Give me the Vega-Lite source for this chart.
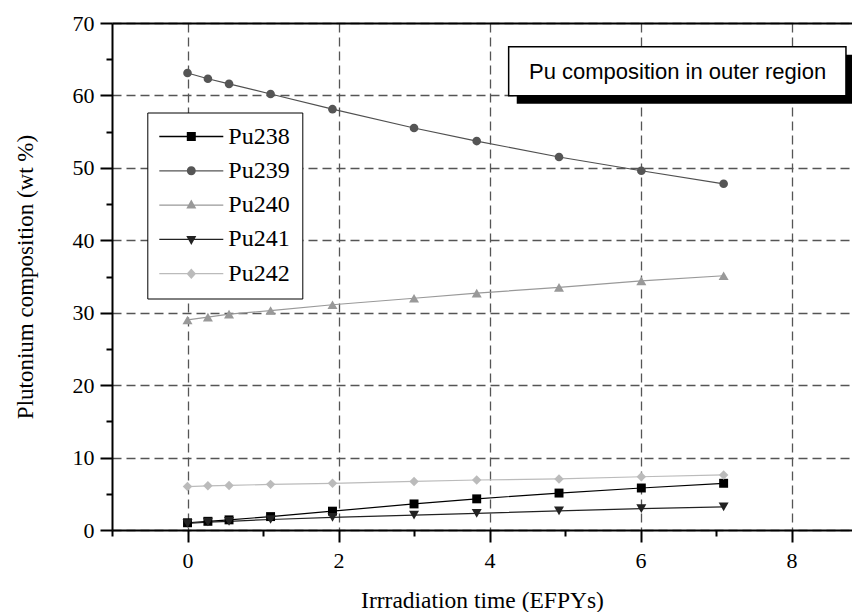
{
  "$schema": "https://vega.github.io/schema/vega-lite/v6.json",
  "width": 740,
  "height": 507,
  "autosize": {"type": "none"},
  "padding": {"left": 112, "top": 23, "right": 0, "bottom": 82},
  "background": "white",
  "config": {"view": {"stroke": null}, "font": "Liberation Serif"},
  "data": {
    "values": [
      {"t": 0, "iso": "Pu238", "wt": 1.0},
      {"t": 0.27, "iso": "Pu238", "wt": 1.2},
      {"t": 0.55, "iso": "Pu238", "wt": 1.4},
      {"t": 1.1, "iso": "Pu238", "wt": 1.85},
      {"t": 1.92, "iso": "Pu238", "wt": 2.6},
      {"t": 3.0, "iso": "Pu238", "wt": 3.6},
      {"t": 3.83, "iso": "Pu238", "wt": 4.3},
      {"t": 4.92, "iso": "Pu238", "wt": 5.1},
      {"t": 6.01, "iso": "Pu238", "wt": 5.8},
      {"t": 7.1, "iso": "Pu238", "wt": 6.45},
      {"t": 0, "iso": "Pu239", "wt": 63.1},
      {"t": 0.27, "iso": "Pu239", "wt": 62.3},
      {"t": 0.55, "iso": "Pu239", "wt": 61.6},
      {"t": 1.1, "iso": "Pu239", "wt": 60.2},
      {"t": 1.92, "iso": "Pu239", "wt": 58.1},
      {"t": 3.0, "iso": "Pu239", "wt": 55.5},
      {"t": 3.83, "iso": "Pu239", "wt": 53.7},
      {"t": 4.92, "iso": "Pu239", "wt": 51.5},
      {"t": 6.01, "iso": "Pu239", "wt": 49.6},
      {"t": 7.1, "iso": "Pu239", "wt": 47.8},
      {"t": 0, "iso": "Pu240", "wt": 29.0},
      {"t": 0.27, "iso": "Pu240", "wt": 29.4},
      {"t": 0.55, "iso": "Pu240", "wt": 29.8},
      {"t": 1.1, "iso": "Pu240", "wt": 30.3},
      {"t": 1.92, "iso": "Pu240", "wt": 31.1},
      {"t": 3.0, "iso": "Pu240", "wt": 32.0},
      {"t": 3.83, "iso": "Pu240", "wt": 32.7},
      {"t": 4.92, "iso": "Pu240", "wt": 33.5},
      {"t": 6.01, "iso": "Pu240", "wt": 34.4},
      {"t": 7.1, "iso": "Pu240", "wt": 35.1},
      {"t": 0, "iso": "Pu241", "wt": 0.9},
      {"t": 0.27, "iso": "Pu241", "wt": 1.1},
      {"t": 0.55, "iso": "Pu241", "wt": 1.2},
      {"t": 1.1, "iso": "Pu241", "wt": 1.45},
      {"t": 1.92, "iso": "Pu241", "wt": 1.75},
      {"t": 3.0, "iso": "Pu241", "wt": 2.05},
      {"t": 3.83, "iso": "Pu241", "wt": 2.3},
      {"t": 4.92, "iso": "Pu241", "wt": 2.65},
      {"t": 6.01, "iso": "Pu241", "wt": 2.95},
      {"t": 7.1, "iso": "Pu241", "wt": 3.2},
      {"t": 0, "iso": "Pu242", "wt": 6.0},
      {"t": 0.27, "iso": "Pu242", "wt": 6.1},
      {"t": 0.55, "iso": "Pu242", "wt": 6.15},
      {"t": 1.1, "iso": "Pu242", "wt": 6.3},
      {"t": 1.92, "iso": "Pu242", "wt": 6.45},
      {"t": 3.0, "iso": "Pu242", "wt": 6.7},
      {"t": 3.83, "iso": "Pu242", "wt": 6.9},
      {"t": 4.92, "iso": "Pu242", "wt": 7.05},
      {"t": 6.01, "iso": "Pu242", "wt": 7.35},
      {"t": 7.1, "iso": "Pu242", "wt": 7.6}
    ]
  },
  "resolve": {"axis": {"x": "independent", "y": "independent"}},
  "layer": [
    {
      "transform": [{"filter": "datum.iso === 'Pu238'"}],
      "mark": {"type": "line", "strokeWidth": 1.2, "color": "#000000"},
      "encoding": {
        "x": {
          "field": "t", "type": "quantitative",
          "scale": {"domain": [-1, 8.8], "nice": false, "zero": false},
          "axis": {
            "orient": "bottom",
            "values": [0, 2, 4, 6, 8], "format": "d",
            "domainColor": "black", "domainWidth": 2,
            "tickColor": "black", "tickWidth": 2, "tickSize": 12,
            "labelFont": "Liberation Serif", "labelFontSize": 22, "labelColor": "black", "labelPadding": 8,
            "grid": true, "gridDash": [9, 5], "gridColor": "#555", "gridWidth": 1.3,
            "title": "Irrradiation time (EFPYs)",
            "titleFont": "Liberation Serif", "titleFontSize": 23.5, "titleFontWeight": "normal", "titleColor": "black",
            "titleBaseline": "alphabetic", "titleY": 77
          }
        },
        "y": {
          "field": "wt", "type": "quantitative",
          "scale": {"domain": [0, 70], "nice": false, "zero": false},
          "axis": {
            "orient": "left",
            "values": [0, 10, 20, 30, 40, 50, 60, 70],
            "domainColor": "black", "domainWidth": 2,
            "tickColor": "black", "tickWidth": 2, "tickSize": 12,
            "labelFont": "Liberation Serif", "labelFontSize": 22, "labelColor": "black", "labelPadding": 6,
            "grid": true, "gridDash": [9, 5], "gridColor": "#555", "gridWidth": 1.3,
            "title": "Plutonium composition (wt %)",
            "titleFont": "Liberation Serif", "titleFontSize": 23, "titleFontWeight": "normal", "titleColor": "black",
            "titleBaseline": "alphabetic", "titleAngle": 270, "titleX": -80, "titleY": 253.5, "titleAlign": "center"
          }
        }
      }
    },
    {
      "transform": [{"filter": "datum.iso === 'Pu239'"}],
      "mark": {"type": "line", "strokeWidth": 1.2, "color": "#505050"},
      "encoding": {
        "x": {"field": "t", "type": "quantitative", "axis": null},
        "y": {"field": "wt", "type": "quantitative", "axis": null}
      }
    },
    {
      "transform": [{"filter": "datum.iso === 'Pu240'"}],
      "mark": {"type": "line", "strokeWidth": 1.2, "color": "#999999"},
      "encoding": {
        "x": {"field": "t", "type": "quantitative", "axis": null},
        "y": {"field": "wt", "type": "quantitative", "axis": null}
      }
    },
    {
      "transform": [{"filter": "datum.iso === 'Pu241'"}],
      "mark": {"type": "line", "strokeWidth": 1.2, "color": "#222222"},
      "encoding": {
        "x": {"field": "t", "type": "quantitative", "axis": null},
        "y": {"field": "wt", "type": "quantitative", "axis": null}
      }
    },
    {
      "transform": [{"filter": "datum.iso === 'Pu242'"}],
      "mark": {"type": "line", "strokeWidth": 1.2, "color": "#bbbbbb"},
      "encoding": {
        "x": {"field": "t", "type": "quantitative", "axis": null},
        "y": {"field": "wt", "type": "quantitative", "axis": null}
      }
    },
    {
      "transform": [{"filter": "datum.iso === 'Pu238'"}],
      "mark": {"type": "point", "filled": true, "opacity": 1, "shape": "square", "size": 80, "color": "#000000"},
      "encoding": {
        "x": {"field": "t", "type": "quantitative", "axis": null},
        "y": {"field": "wt", "type": "quantitative", "axis": null}
      }
    },
    {
      "transform": [{"filter": "datum.iso === 'Pu239'"}],
      "mark": {"type": "point", "filled": true, "opacity": 1, "shape": "circle", "size": 75, "color": "#555555"},
      "encoding": {
        "x": {"field": "t", "type": "quantitative", "axis": null},
        "y": {"field": "wt", "type": "quantitative", "axis": null}
      }
    },
    {
      "transform": [{"filter": "datum.iso === 'Pu240'"}],
      "mark": {"type": "point", "filled": true, "opacity": 1, "shape": "triangle-up", "size": 100, "color": "#999999"},
      "encoding": {
        "x": {"field": "t", "type": "quantitative", "axis": null},
        "y": {"field": "wt", "type": "quantitative", "axis": null}
      }
    },
    {
      "transform": [{"filter": "datum.iso === 'Pu241'"}],
      "mark": {"type": "point", "filled": true, "opacity": 1, "shape": "triangle-down", "size": 100, "color": "#222222"},
      "encoding": {
        "x": {"field": "t", "type": "quantitative", "axis": null},
        "y": {"field": "wt", "type": "quantitative", "axis": null}
      }
    },
    {
      "transform": [{"filter": "datum.iso === 'Pu242'"}],
      "mark": {"type": "point", "filled": true, "opacity": 1, "shape": "diamond", "size": 90, "color": "#bbbbbb"},
      "encoding": {
        "x": {"field": "t", "type": "quantitative", "axis": null},
        "y": {"field": "wt", "type": "quantitative", "axis": null}
      }
    },
    {
      "mark": {"type": "point", "filled": true, "opacity": 0, "size": 100},
      "encoding": {
        "x": {"field": "t", "type": "quantitative", "axis": null},
        "y": {"field": "wt", "type": "quantitative", "axis": null},
        "fill": {
          "field": "iso", "type": "nominal",
          "scale": {"domain": ["Pu238", "Pu239", "Pu240", "Pu241", "Pu242"], "range": ["#000000", "#555555", "#999999", "#222222", "#bbbbbb"]},
          "legend": {
            "orient": "none", "legendX": 35.3, "legendY": 89.5, "title": null, "direction": "vertical",
            "padding": 12, "strokeColor": "black", "fillColor": "white",
            "labelFont": "Liberation Serif", "labelFontSize": 24, "labelColor": "black", "labelOffset": 25,
            "symbolSize": 100, "symbolOffset": 20, "rowPadding": 10.3, "symbolOpacity": 1, "symbolStrokeWidth": 0
          }
        },
        "shape": {
          "field": "iso", "type": "nominal",
          "scale": {
            "domain": ["Pu238", "Pu239", "Pu240", "Pu241", "Pu242"],
            "range": [
              "M-6.4,-0.13H6.4V0.13H-6.4Z M-0.9,-0.9H0.9V0.9H-0.9Z",
              "M-6.4,-0.13H6.4V0.13H-6.4Z M-0.9,0A0.9,0.9,0,1,1,0.9,0A0.9,0.9,0,1,1,-0.9,0Z",
              "M-6.4,-0.13H6.4V0.13H-6.4Z M-1,0.7L0,-1.1L1,0.7Z",
              "M-6.4,-0.13H6.4V0.13H-6.4Z M1,-0.7L0,1.1L-1,-0.7Z",
              "M-6.4,-0.13H6.4V0.13H-6.4Z M-0.95,0L0,-1.05L0.95,0L0,1.05Z"
            ]
          },
          "legend": {
            "orient": "none", "legendX": 35.3, "legendY": 89.5, "title": null, "direction": "vertical",
            "padding": 12, "strokeColor": "black", "fillColor": "white",
            "labelFont": "Liberation Serif", "labelFontSize": 24, "labelColor": "black", "labelOffset": 25,
            "symbolSize": 100, "symbolOffset": 20, "rowPadding": 10.3, "symbolOpacity": 1, "symbolStrokeWidth": 0
          }
        }
      }
    },
    {
      "data": {"values": [{}]},
      "mark": {"type": "rect", "color": "black"},
      "encoding": {
        "x": {"datum": 4.36, "type": "quantitative", "axis": null},
        "x2": {"datum": 8.85},
        "y": {"datum": 65.6, "type": "quantitative", "axis": null},
        "y2": {"datum": 58.85}
      }
    },
    {
      "data": {"values": [{}]},
      "mark": {"type": "rect", "fill": "white", "stroke": "black", "strokeWidth": 1.5},
      "encoding": {
        "x": {"datum": 4.253, "type": "quantitative", "axis": null},
        "x2": {"datum": 8.72},
        "y": {"datum": 66.72, "type": "quantitative", "axis": null},
        "y2": {"datum": 59.95}
      }
    },
    {
      "data": {"values": [{"label": "Pu composition in outer region"}]},
      "mark": {"type": "text", "font": "Liberation Sans", "fontSize": 22, "color": "black", "align": "center", "baseline": "alphabetic"},
      "encoding": {
        "x": {"datum": 6.49, "type": "quantitative", "axis": null},
        "y": {"datum": 62.26, "type": "quantitative", "axis": null},
        "text": {"field": "label"}
      }
    },
    {
      "mark": {"type": "point", "opacity": 0},
      "encoding": {
        "x": {"field": "t", "type": "quantitative",
          "axis": {"orient": "bottom", "values": [-1, 1, 3, 5, 7], "labels": false, "domain": false, "grid": false, "tickColor": "black", "tickWidth": 2, "tickSize": 6, "title": null}},
        "y": {"field": "wt", "type": "quantitative",
          "axis": {"orient": "left", "values": [5, 15, 25, 35, 45, 55, 65], "labels": false, "domain": false, "grid": false, "tickColor": "black", "tickWidth": 2, "tickSize": 6, "title": null}}
      }
    },
    {
      "mark": {"type": "point", "opacity": 0},
      "encoding": {
        "x": {"field": "t", "type": "quantitative",
          "axis": {"orient": "top", "labels": false, "ticks": false, "grid": false, "domain": true, "domainColor": "black", "domainWidth": 2, "title": null}},
        "y": {"field": "wt", "type": "quantitative", "axis": null}
      }
    }
  ]
}
